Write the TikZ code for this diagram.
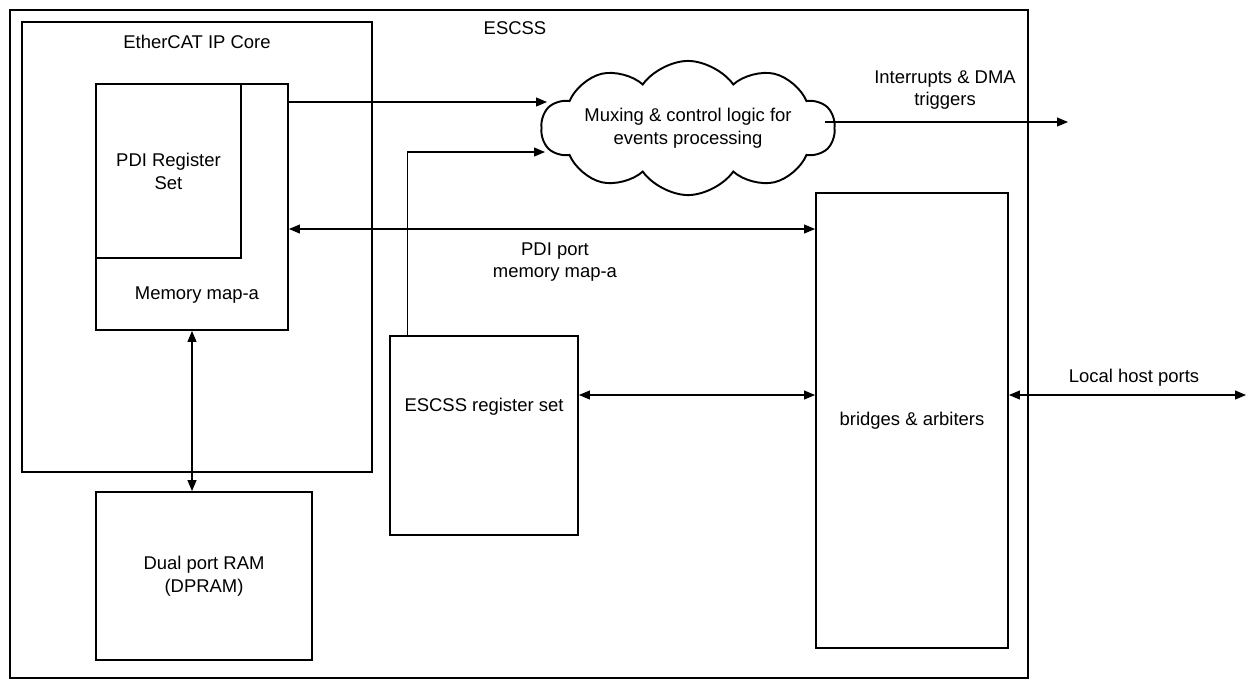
\documentclass[tikz,border=0pt]{standalone}
\usepackage{fontspec}
\setmainfont{Liberation Sans}
\usetikzlibrary{positioning, arrows.meta, shapes.symbols}

\tikzset{
  blk/.style={draw, line width=1.1pt, inner sep=0pt, align=center},
  lnk/.style={line width=0.6pt},
  arr/.style={lnk, -{Triangle[length=0.22cm,width=0.18cm]}},
  biarr/.style={lnk, {Triangle[length=0.22cm,width=0.18cm]}-{Triangle[length=0.22cm,width=0.18cm]}},
  lbl/.style={align=center, inner sep=0pt},
}

\begin{document}
\begin{tikzpicture}[x=0.02cm, y=-0.02cm, font=\fontsize{10.5}{13}\selectfont]
  \useasboundingbox (0,0) rectangle (1247,681);

  % outer frame and IP core
  \node[blk, minimum width=20.36cm, minimum height=13.36cm] (escss) at (519,344) {};
  \node[lbl] (escsstxt) at (515,28) {ESCSS};
  \node[blk, minimum width=7.0cm, minimum height=9.0cm] (ipcore) at (197,247) {};
  \node[lbl] (ipcoretxt) at (197,42) {EtherCAT IP Core};

  % memory map, register set sits in its corner
  \node[blk, minimum width=3.84cm, minimum height=4.92cm] (memmap) at (192,207) {};
  \node[blk, minimum width=2.9cm, minimum height=3.48cm, anchor=north west]
    (pdireg) at (memmap.north west) {PDI Register\\Set};
  \node[lbl] (memmaptxt) at (197,295) {Memory map-a};

  \node[blk, minimum width=4.32cm, minimum height=3.36cm] (dpram) at (204,576)
    {Dual port RAM\\(DPRAM)};
  \node[blk, minimum width=3.76cm, minimum height=3.98cm] (escssreg) at (484,435.5) {};
  \node[lbl] (escssregtxt) at (484,407) {ESCSS register set};
  \node[blk, minimum width=3.84cm, minimum height=9.1cm] (bridges) at (912,420.5)
    {bridges \& arbiters};

  \node[cloud, draw, line width=1.1pt, cloud puffs=10, cloud puff arc=110,
    aspect=3.2, inner sep=0pt, minimum width=5.6cm, minimum height=2.2cm,
    align=center] (mux) at (688,128)
    {Muxing \& control logic for\\events processing};

  % free ends
  \coordinate (muxin1) at (547,102);
  \coordinate (muxin2) at (545,152);
  \coordinate (muxout) at (825,122);
  \coordinate (irqend) at (1068,122);
  \coordinate (hostend) at (1246,395);

  \draw[arr] (memmap.east |- muxin1) -- (muxin1);
  \draw[arr] ([xshift=0.36cm]escssreg.north west) |- (muxin2);
  \draw[arr] (muxout) -- (irqend);
  \node[lbl] (irqtxt) at (945,90) {Interrupts \& DMA\\triggers};

  \draw[biarr] (memmap.east |- 0,229) -- (bridges.west |- 0,229);
  \node[lbl] (pdiporttxt) at (555,262) {PDI port\\memory map-a};
  \draw[biarr] (escssreg.east |- 0,395) -- (bridges.west |- 0,395);
  \draw[biarr] (bridges.east |- hostend) -- (hostend);
  \node[lbl] (hosttxt) at (1134,378) {Local host ports};
  \draw[biarr] (memmap.south) -- (memmap.south |- dpram.north);
\end{tikzpicture}
\end{document}
